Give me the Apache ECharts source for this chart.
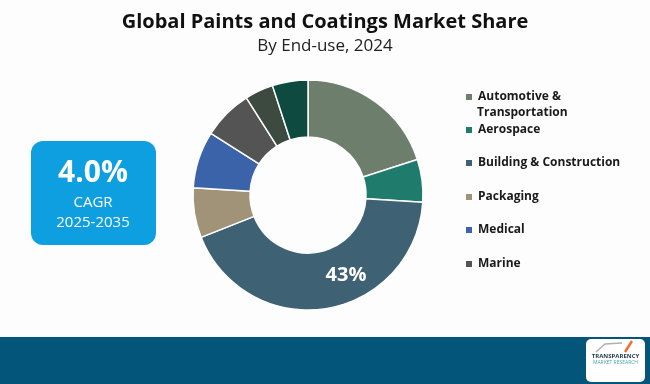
<!DOCTYPE html>
<html><head><meta charset="utf-8">
<script src="https://cdn.jsdelivr.net/npm/echarts@6/dist/echarts.min.js"></script>
<style>html,body{margin:0;padding:0;background:#fdfdfd}#c{width:650px;height:384px}</style>
</head><body><div id="c"></div>
<script>
const categories = ['Automotive & Transportation','Aerospace','Building & Construction','Packaging','Medical','Marine','Other A','Other B'];
const legendNames = ['Automotive & Transportation','Aerospace','Building & Construction','Packaging','Medical','Marine'];
const shares = [20, 6, 43, 7, 8, 7, 4, 5];
const colors = ['#6d7f6c','#1f7b6c','#3e6273','#a09377','#3a63a9','#545454','#3d4a40','#0f4a40'];
const labelled = 'Building & Construction';
const titleText = 'Global Paints and Coatings Market Share';
const subText = 'By End-use, 2024';
const cagrValue = '4.0%';
const cagrLabel = 'CAGR';
const cagrPeriod = '2025-2035';

const chart = echarts.init(document.getElementById('c'), null, {renderer:'canvas'});
const legendTops = [86, 119, 152, 186, 219, 253];
const legendFont = {fontFamily:'Open Sans', fontWeight:'bold', fontSize:12, color:'#1a1a1a'};
const legends = legendNames.map((n,i)=>({
  data:[n], orient:'vertical', left:459, top:legendTops[i],
  itemWidth:8, itemHeight:8, icon:'rect', selectedMode:false,
  formatter: i===0 ? 'Automotive &' : '{name}',
  textStyle: legendFont
}));
chart.setOption({
  backgroundColor:'#fdfdfd',
  animation:false,
  title:[{text:titleText, left:'center', top:7, textStyle:{fontFamily:'Open Sans', fontWeight:'bold', fontSize:20, color:'#111'}},
         {text:subText, left:'center', top:33, textStyle:{fontFamily:'Open Sans', fontWeight:'normal', fontSize:17, color:'#222'}}],
  legend: legends,
  graphic:[
    {type:'text', style:{x:477, y:113, text:'Transportation', align:'left', verticalAlign:'middle', fill:'#1a1a1a', font:'bold 12px "Open Sans"'}},
    {type:'rect', shape:{x:31, y:141, width:125, height:104, r:12}, style:{fill:'#0e9fe0'}},
    {type:'text', style:{x:93, y:173, text:cagrValue, align:'center', verticalAlign:'middle', fill:'#fff', font:'bold 30px "Open Sans"'}},
    {type:'text', style:{x:93, y:203, text:cagrLabel, align:'center', verticalAlign:'middle', fill:'#fff', font:'15px "Open Sans"'}},
    {type:'text', style:{x:93, y:223, text:cagrPeriod, align:'center', verticalAlign:'middle', fill:'#fff', font:'15px "Open Sans"'}},
    {type:'rect', shape:{x:0, y:337, width:650, height:47}, style:{fill:'#04557a'}},
    {type:'rect', shape:{x:586, y:339, width:59, height:43, r:5}, style:{fill:'#ffffff'}},
    {type:'text', style:{x:615.5, y:356, text:'TRANSPARENCY', align:'center', verticalAlign:'middle', fill:'#1d3550', font:'bold 6px "Open Sans"'}},
    {type:'text', style:{x:615.5, y:363, text:'MARKET RESEARCH', align:'center', verticalAlign:'middle', fill:'#4aa8a0', font:'5px "Open Sans"'}},
    {type:'polyline', shape:{points:[[596,352],[605,344],[622,343]]}, style:{stroke:'#b0b0b0', lineWidth:1.5, fill:null}},
    {type:'polyline', shape:{points:[[625,352],[632,341]]}, style:{stroke:'#f07030', lineWidth:2.5, fill:null}}
  ],
  series:[{
    type:'pie', center:[308,195], radius:[58,115], startAngle:90, clockwise:true,
    avoidLabelOverlap:false, legendHoverLink:false,
    itemStyle:{borderColor:'#fdfdfd', borderWidth:1.5},
    label:{show:false}, labelLine:{show:false},
    data: categories.map((n,i)=>({
      name:n, value:shares[i], itemStyle:{color:colors[i]},
      label: n===labelled ? {show:true, position:'inside', formatter:'{d}%', color:'#fff', fontFamily:'Open Sans', fontWeight:'bold', fontSize:20, offset:[24,-8]} : {show:false}
    }))
  }]
});
</script></body></html>
